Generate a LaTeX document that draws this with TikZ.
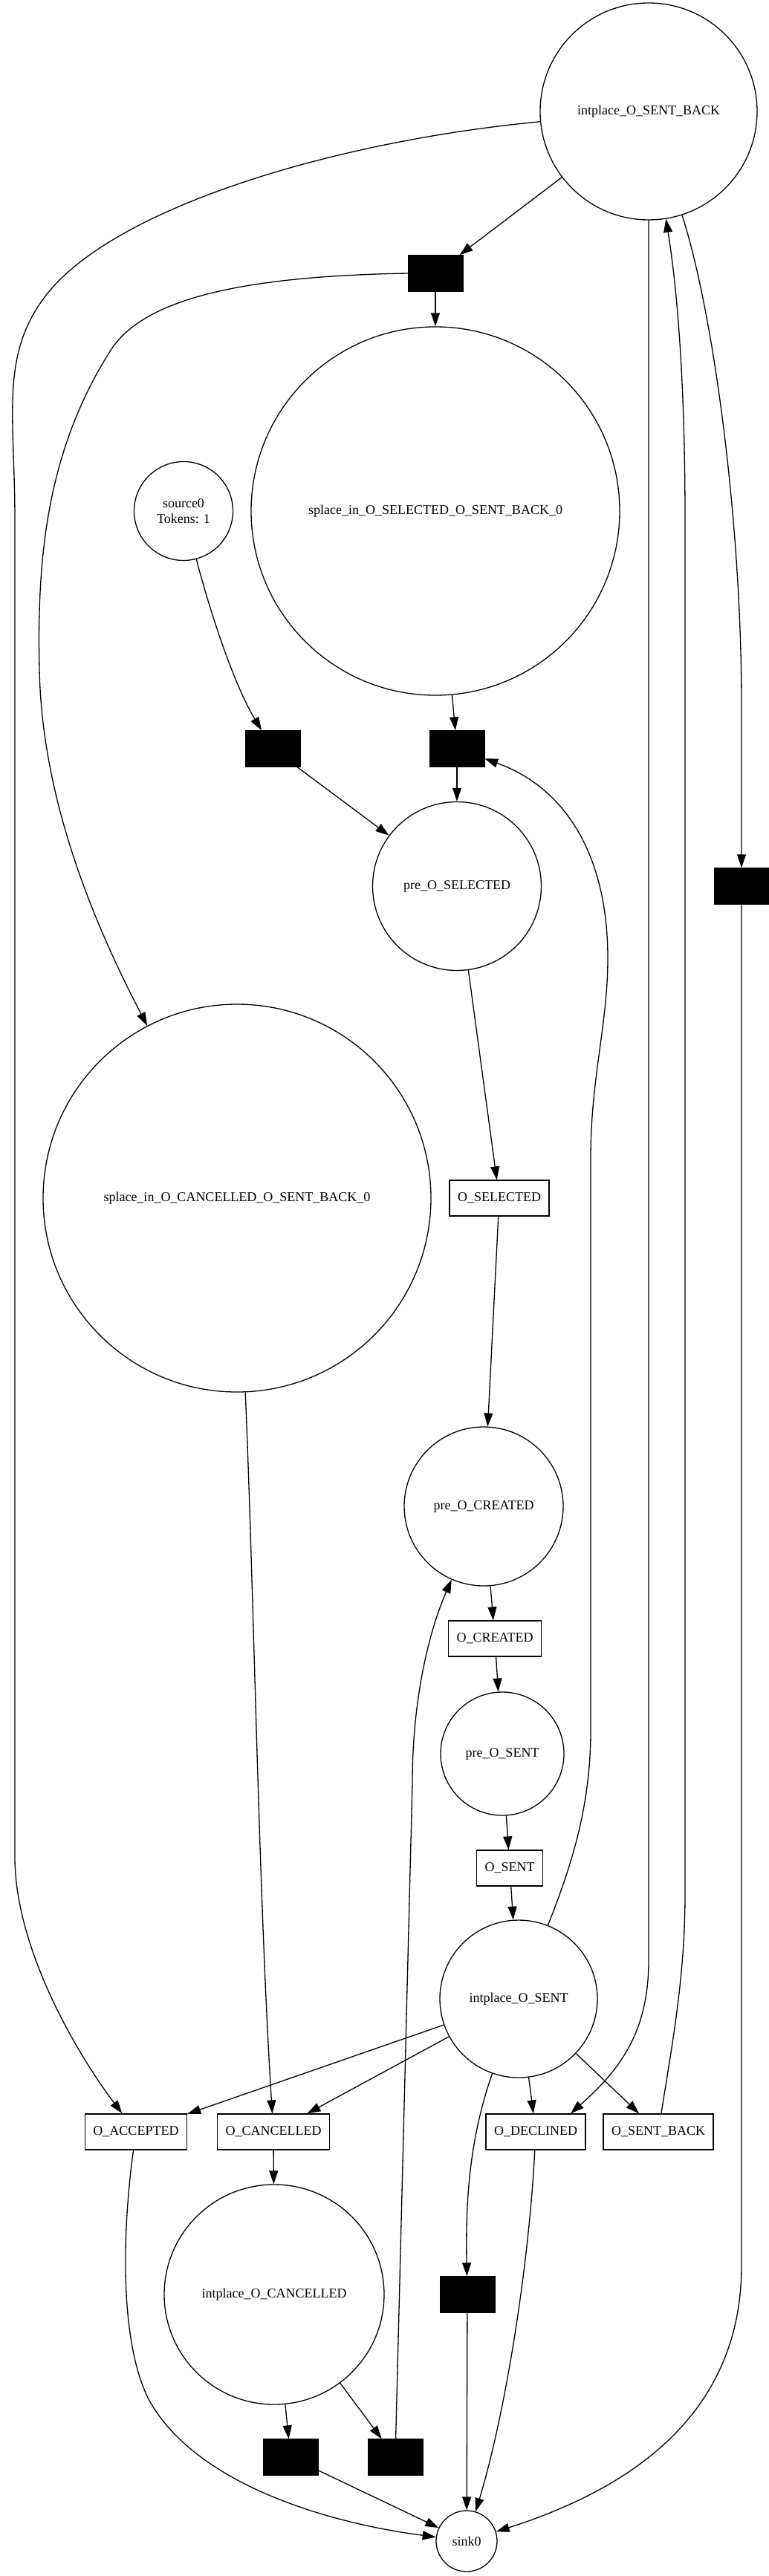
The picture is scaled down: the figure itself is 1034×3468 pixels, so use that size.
\documentclass[tikz,border=0pt]{standalone}
\usepackage{fontspec}
\setmainfont{Liberation Serif}
\usetikzlibrary{arrows.meta,calc}

\begin{document}
\begin{tikzpicture}[x=1pt,y=-1pt,
  font=\fontsize{18}{21}\selectfont,
  place/.style={draw,circle,inner sep=0pt,line width=1.3pt},
  trans/.style={draw,fill=black,rectangle,minimum width=74pt,minimum height=49pt,inner sep=0pt},
  act/.style={draw,rectangle,minimum height=48pt,inner xsep=11pt,inner ysep=0pt,line width=1.3pt},
  arc/.style={line width=1.3pt,-{Triangle[length=18pt,width=12pt]}}]

\useasboundingbox (0,0) rectangle (1034,3468);

% Define places
\node[place,minimum size=292pt] (isb) at (873,150) {intplace\_O\_SENT\_BACK};
\node[place,minimum size=496pt] (ssel) at (586,688) {splace\_in\_O\_SELECTED\_O\_SENT\_BACK\_0};
\node[place,minimum size=133pt,align=center] (src) at (247,688) {source0\\Tokens: 1};
\node[place,minimum size=227pt] (psel) at (615,1193) {pre\_O\_SELECTED};
\node[place,minimum size=522pt] (scan) at (319,1613) {splace\_in\_O\_CANCELLED\_O\_SENT\_BACK\_0};
\node[place,minimum size=214pt] (pcre) at (651,2028) {pre\_O\_CREATED};
\node[place,minimum size=166pt] (psent) at (676,2361) {pre\_O\_SENT};
\node[place,minimum size=212pt] (is) at (698,2691) {intplace\_O\_SENT};
\node[place,minimum size=296pt] (ican) at (369,3089) {intplace\_O\_CANCELLED};
\node[place,minimum size=82pt] (sink) at (628,3421) {sink0};

% Silent transitions
\node[trans] (t1) at (586,368) {};
\node[trans] (t2) at (367,1008) {};
\node[trans] (t3) at (615,1008) {};
\node[trans] (t4) at (998,1193) {};
\node[trans] (t5) at (629,3089) {};
\node[trans] (t6) at (391,3308) {};
\node[trans] (t7) at (532,3308) {};

% Labelled transitions
\node[act] (osel) at (672,1613) {O\_SELECTED};
\node[act] (ocre) at (666,2206) {O\_CREATED};
\node[act] (osent) at (686,2515) {O\_SENT};
\node[act] (oacc) at (183,2870) {O\_ACCEPTED};
\node[act] (ocan) at (368,2870) {O\_CANCELLED};
\node[act] (odec) at (721,2870) {O\_DECLINED};
\node[act] (osb) at (886,2870) {O\_SENT\_BACK};

% Draw arcs
\draw[arc] (isb) -- (t1);
\draw[arc] (t1) -- (ssel);
\draw[arc] (t1.west) .. controls (300,372) and (190,410) .. (150,470)
  .. controls (60,610) and (50,760) .. (53,900)
  .. controls (56,1080) and (130,1250) .. (scan);
\draw[arc] (isb) .. controls (450,190) and (150,280) .. (60,400)
  .. controls (0,480) and (20,560) .. (20,700) -- (20,2500)
  .. controls (20,2620) and (100,2760) .. (oacc);
\draw[arc] (src) .. controls (290,850) and (320,930) .. (t2);
\draw[arc] (ssel) -- (t3);
\draw[arc] (t2) -- (psel);
\draw[arc] (t3) -- (psel);
\draw[arc] (is) .. controls (770,2510) and (795,2430) .. (795,2330) -- (795,1560)
  .. controls (795,1450) and (818,1380) .. (818,1290)
  .. controls (818,1150) and (760,1060) .. (t3);
\draw[arc] (isb) .. controls (960,420) and (998,700) .. (998,950) -- (t4);
\draw[arc] (t4) -- (998,3050) .. controls (998,3250) and (850,3350) .. (sink);
\draw[arc] (psel) -- (osel);
\draw[arc] (osel) -- (pcre);
\draw[arc] (scan) .. controls (342,2150) and (348,2550) .. (ocan);
\draw[arc] (pcre) -- (ocre);
\draw[arc] (ocre) -- (psent);
\draw[arc] (psent) -- (osent);
\draw[arc] (osent) -- (is);
\draw[arc] (isb) -- (873,2640) .. controls (873,2740) and (830,2790) .. ([xshift=47pt]odec.north);
\draw[arc] (osb) .. controls (905,2750) and (922,2660) .. (922,2550) -- (922,700)
  .. controls (922,500) and (910,380) .. (isb);
\draw[arc] (is) -- (oacc);
\draw[arc] (is) -- (ocan);
\draw[arc] (is) -- (odec);
\draw[arc] (is) -- (osb);
\draw[arc] (is) .. controls (635,2870) and (626,2950) .. (t5);
\draw[arc] (ocan) -- (ican);
\draw[arc] (ican) -- (t6);
\draw[arc] (ican) -- (t7);
\draw[arc] (t7) -- (555,2400) .. controls (555,2280) and (580,2190) .. (pcre);
\draw[arc] (t5) -- (sink);
\draw[arc] (odec) .. controls (712,3050) and (680,3250) .. (sink);
\draw[arc] (oacc) .. controls (165,3000) and (160,3150) .. (200,3230)
  .. controls (260,3340) and (430,3395) .. (sink);
\draw[arc] (t6) -- (sink);

\end{tikzpicture}
\end{document}
